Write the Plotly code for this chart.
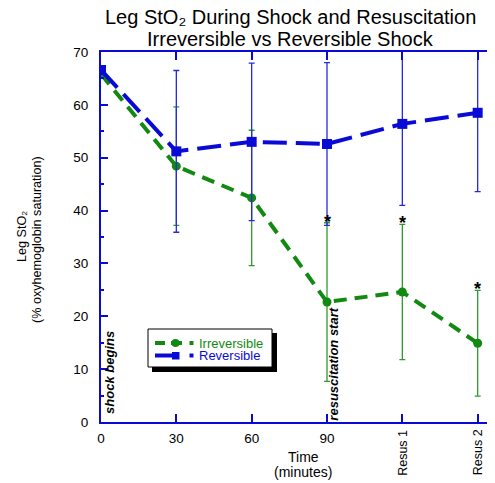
import plotly.graph_objects as go

categories = ["0", "30", "60", "90", "Resus 1", "Resus 2"]
x_pos = [0, 1, 2, 3, 4, 5]

irrev_mean = [65.8, 48.4, 42.4, 22.7, 24.6, 14.9]
irrev_err = [0, 11.2, 12.8, 15.0, 12.8, 10.0]

rev_x = [0, 1, 2, 3, 4, 5, 6]
rev_mean = [66.6, 51.2, 53.0, 52.6, 56.4, 58.5, 57.4]
rev_err = [0, 15.3, 14.9, 15.4, 15.4, 14.9, 0]

star_x = [3, 4, 5]

title_lines = ["Leg StO\u2082 During Shock and Resuscitation",
               "Irreversible vs Reversible Shock"]

BLUE = "#0a0ad6"
GREEN = "#128a12"
FONT = "Liberation Sans, Arial, sans-serif"

# page has an 8px body margin; plot area spans page px 101..495 x 52..422
PL, PT, PW, PH = 101, 52, 394, 370


def px(x):
    return (x - PL) / PW


def py(y):
    return (PT + PH - y) / PH


fig = go.Figure()

fig.add_trace(go.Scatter(
    x=x_pos, y=irrev_mean, name="Irreversible", mode="lines+markers",
    line=dict(color=GREEN, width=4, dash="13px,8px"),
    marker=dict(symbol="circle", size=9, color=GREEN),
    error_y=dict(type="data", array=irrev_err, color="#2f9a2f", thickness=1.3, width=3),
))
fig.add_trace(go.Scatter(
    x=rev_x, y=rev_mean, name="Reversible", mode="lines+markers",
    line=dict(color=BLUE, width=4, dash="24px,9px"),
    marker=dict(symbol="square", size=10, color=BLUE),
    error_y=dict(type="data", array=rev_err, color="#2828e0", thickness=1.3, width=3),
))

tfont = dict(color="black", family=FONT)
annotations = []
for sx in star_x:
    top = irrev_mean[sx] + irrev_err[sx]
    annotations.append(dict(x=sx, y=top, xref="x", yref="y", text="<b>*</b>",
                            showarrow=False, yanchor="bottom", yshift=-11,
                            font=dict(size=18, **tfont)))

annotations += [
    dict(x=px(290), y=py(17), xref="paper", yref="paper", text=title_lines[0],
         showarrow=False, xanchor="center", yanchor="middle", font=dict(size=20, **tfont)),
    dict(x=px(290), y=py(38.5), xref="paper", yref="paper", text=title_lines[1],
         showarrow=False, xanchor="center", yanchor="middle", font=dict(size=20, **tfont)),
    dict(x=0.12, y=9.3, xref="x", yref="y", text="<b><i>shock begins</i></b>",
         textangle=-90, showarrow=False, font=dict(size=13, **tfont)),
    dict(x=3.09, y=11.0, xref="x", yref="y", text="<b><i>resuscitation start</i></b>",
         textangle=-90, showarrow=False, font=dict(size=13, **tfont)),
    dict(x=4, y=py(452.5), xref="x", yref="paper", text=categories[4], textangle=-90,
         showarrow=False, yanchor="middle", font=dict(size=12.5, **tfont)),
    dict(x=5, y=py(452.5), xref="x", yref="paper", text=categories[5], textangle=-90,
         showarrow=False, yanchor="middle", font=dict(size=12.5, **tfont)),
    dict(x=px(303), y=py(457), xref="paper", yref="paper", text="Time",
         showarrow=False, yanchor="middle", font=dict(size=14, **tfont)),
    dict(x=px(303), y=py(472), xref="paper", yref="paper", text="(minutes)",
         showarrow=False, yanchor="middle", font=dict(size=14, **tfont)),
    dict(x=px(22), y=py(237), xref="paper", yref="paper", text="Leg StO\u2082",
         textangle=-90, showarrow=False, xanchor="center", yanchor="middle",
         font=dict(size=12.6, **tfont)),
    dict(x=px(37), y=py(240), xref="paper", yref="paper",
         text="(% oxyhemoglobin saturation)",
         textangle=-90, showarrow=False, xanchor="center", yanchor="middle",
         font=dict(size=12.6, **tfont)),
    # manual legend labels
    dict(x=px(197), y=py(343), xref="paper", yref="paper", text="Irreversible",
         showarrow=False, xanchor="left", yanchor="middle",
         font=dict(size=13, color=GREEN, family=FONT)),
    dict(x=px(197), y=py(355.5), xref="paper", yref="paper", text="Reversible",
         showarrow=False, xanchor="left", yanchor="middle",
         font=dict(size=13, color=BLUE, family=FONT)),
]


def rect(x0, y0, x1, y1, fill, line_w=0, line_c="black"):
    return dict(type="rect", xref="paper", yref="paper",
                x0=px(x0), x1=px(x1), y0=py(y1), y1=py(y0),
                fillcolor=fill, line=dict(width=line_w, color=line_c), layer="above")


def seg(x0, x1, y, color, w=4):
    return dict(type="line", xref="paper", yref="paper",
                x0=px(x0), x1=px(x1), y0=py(y), y1=py(y),
                line=dict(color=color, width=w), layer="above")


shapes = [
    rect(152, 333, 277, 372, "black"),
    rect(148, 329, 272, 367, "white", 1, "black"),
    seg(155, 165, 343, GREEN),
    seg(171, 182, 343, GREEN),
    dict(type="circle", xref="paper", yref="paper",
         x0=px(171.5), x1=px(179.5), y0=py(347), y1=py(339),
         fillcolor=GREEN, line=dict(width=0), layer="above"),
    seg(189.5, 193.5, 343, GREEN),
    seg(155, 173, 355.5, BLUE),
    rect(172, 352, 179.5, 359.5, BLUE),
    seg(189.5, 193.5, 355.5, BLUE),
]

fig.update_layout(
    width=487, height=475,
    margin=dict(l=93, r=0, t=44, b=61),
    paper_bgcolor="white", plot_bgcolor="white",
    font=dict(family=FONT, color="black"),
    showlegend=False,
    annotations=annotations,
    shapes=shapes,
)

fig.update_xaxes(
    range=[0, 5.23], tickmode="array", tickvals=x_pos,
    ticktext=categories[:4] + ["", ""],
    showline=True, linecolor=BLUE, linewidth=2, mirror="ticks",
    ticks="inside", ticklen=8, tickcolor=BLUE, tickwidth=1.5,
    showgrid=False, zeroline=False, tickfont=dict(size=13.5, color="black"),
    ticklabelstandoff=3,
)

fig.update_yaxes(
    range=[0, 70], dtick=10, showline=True, linecolor=BLUE, linewidth=2,
    ticks="inside", ticklen=7, tickcolor=BLUE, tickwidth=1.5,
    minor=dict(ticks="inside", ticklen=3, dtick=5, tickcolor=BLUE),
    showgrid=False, zeroline=False, tickfont=dict(size=13.5, color="black"),
    ticklabelstandoff=8,
)

fig.write_html("out.html")
